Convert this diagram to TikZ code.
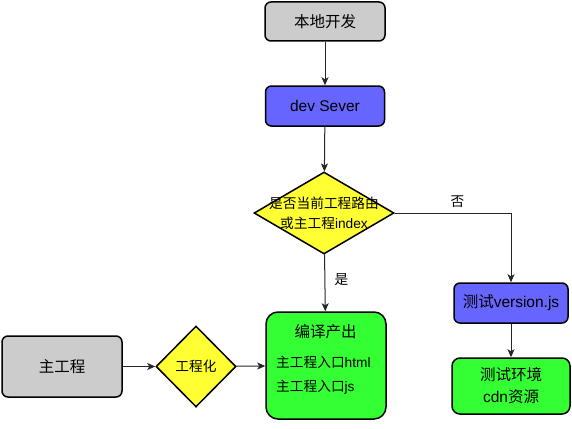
\documentclass[tikz,border=0pt]{standalone}
\usepackage{fontspec}
\setmainfont{Liberation Sans}
\newfontfamily\cjk{Noto Sans CJK SC}
\usetikzlibrary{arrows.meta}
\usetikzlibrary{shapes.geometric}
\pgfdeclarelayer{edgelayer}
\pgfdeclarelayer{nodelayer}
\pgfsetlayers{edgelayer,nodelayer,main}
\definecolor{boxgray}{HTML}{CCCCCC}
\definecolor{boxblue}{HTML}{6666FF}
\definecolor{boxyellow}{HTML}{FFFF33}
\definecolor{boxgreen}{HTML}{33FF33}
\tikzstyle{big_text}=[font=\fontsize{15.5}{22}\selectfont]
\tikzstyle{small_text}=[font=\fontsize{13.7}{20}\selectfont]
\tikzstyle{box}=[rectangle,rounded corners=6pt,draw=black,line width=1.5pt,inner sep=0pt,style=big_text]
\tikzstyle{decision}=[diamond,draw=black,line width=1.5pt,fill=boxyellow,inner sep=0pt]
\tikzstyle{transition}=[-{Stealth[length=8pt,width=7pt,inset=2pt]},draw=black!85,line width=1pt]

\begin{document}
\begin{tikzpicture}[x=1pt,y=-1pt]
	\useasboundingbox (0, 0) rectangle (572, 428);
	\begin{pgfonlayer}{nodelayer}
		\node [style=box, fill=boxgray, minimum width=120pt, minimum height=39pt] (0) at (325, 21.5) {\cjk 本地开发};
		\node [style=box, fill=boxblue, minimum width=119pt, minimum height=40pt] (1) at (325, 106) {dev Sever};
		\node [style=decision, minimum width=140pt, minimum height=82pt] (2) at (324, 213) {};
		\node [style=small_text, align=center] (3) at (324, 213) {{\cjk 是否当前工程路由}\\{\cjk 或主工程}index};
		\node [style=box, fill=boxblue, minimum width=114pt, minimum height=40pt] (4) at (511, 303) {{\cjk 测试}version.js};
		\node [style=box, fill=boxgreen, rounded corners=8pt, minimum width=118pt, minimum height=56pt, align=center] (5) at (511, 386) {{\cjk 测试环境}\\cdn{\cjk 资源}};
		\node [style=box, fill=boxgreen, rounded corners=12pt, minimum width=120pt, minimum height=107pt] (6) at (326, 365.5) {};
		\node [style=big_text] (7) at (325.5, 332) {\cjk 编译产出};
		\node [style=small_text, anchor=west, inner sep=0pt] (8) at (276, 362) {{\cjk 主工程入口}html};
		\node [style=small_text, anchor=west, inner sep=0pt] (9) at (276, 387) {{\cjk 主工程入口}js};
		\node [style=box, fill=boxgray, minimum width=120pt, minimum height=61pt] (10) at (62, 366.5) {\cjk 主工程};
		\node [style=decision, style=small_text, minimum width=80pt, minimum height=81pt] (11) at (196, 366.5) {\cjk 工程化};
	\end{pgfonlayer}
	\begin{pgfonlayer}{edgelayer}
		\draw [style=transition] (0) to (1);
		\draw [style=transition] (1) to (2);
		\draw [style=transition] (2) to node[right=6pt, pos=0.45, style=small_text]{\cjk 是} (6);
		\draw [style=transition] (2.east) -| node[above=2pt, pos=0.27, style=small_text]{\cjk 否} (4.north);
		\draw [style=transition] (4) to (5);
		\draw [style=transition] (10) to (11);
		\draw [style=transition] (11) to (6);
	\end{pgfonlayer}
\end{tikzpicture}
\end{document}
